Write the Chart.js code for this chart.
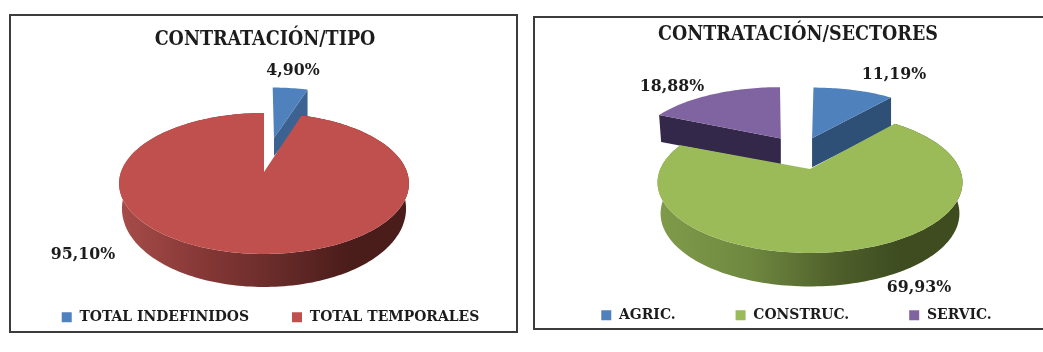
<!DOCTYPE html>
<html><head><meta charset="utf-8">
<script src="https://cdn.jsdelivr.net/npm/chart.js@4/dist/chart.umd.min.js"></script>
<style>
html,body{margin:0;padding:0;background:#fff;overflow:hidden;width:1043px;height:352px}
.p{position:absolute;box-sizing:border-box;border:2px solid #3c3c3c;background:#fff}
.p canvas{display:block}
</style></head><body>
<div class="p" style="left:9px;top:14px;width:509px;height:319px"><canvas id="a" width="505" height="315"></canvas></div>
<div class="p" style="left:533px;top:16px;width:644px;height:314px"><canvas id="b" width="640" height="310"></canvas></div>
<script>
const typeCategories = ['TOTAL INDEFINIDOS', 'TOTAL TEMPORALES'];
const typeValues = [4.90, 95.10];
const typeColors = ['#4f81bd', '#c0504d'];
const sectorCategories = ['AGRIC.', 'CONSTRUC.', 'SERVIC.'];
const sectorValues = [11.19, 69.93, 18.88];
const sectorColors = ['#4f81bd', '#9bbb59', '#8064a2'];
const SERIF = '"DejaVu Serif Condensed", "DejaVu Serif", serif';

const fake3d = {
  id: 'fake3d',
  afterLayout(chart, args, o) {
    const s = (box, d) => { box.left += d[0]; box.right += d[0]; box.top += d[1]; box.bottom += d[1]; };
    s(chart.legend, o.legendShift);
    s(chart.titleBlock, o.titleShift);
  },
  beforeDatasetsDraw(chart, args, o) {
    const ctx = chart.ctx, arcs = chart.getDatasetMeta(0).data;
    const pt = (u, v) => { const s = 1 / (1 + o.k * v); return [o.x + o.a * u * s, o.y - o.b * v * s]; };
    const order = arcs.map((_, i) => i).sort((i, j) => (o.slices[j].du || o.slices[j].dv ? 1 : 0) - (o.slices[i].du || o.slices[i].dv ? 1 : 0));
    ctx.save();
    for (const i of order) {
      const p = arcs[i].getProps(['startAngle', 'endAngle']), c = o.slices[i];
      const t1 = p.startAngle + Math.PI / 2, t2 = p.endAngle + Math.PI / 2;
      const du = c.du || 0, dv = c.dv || 0;
      const rim = t => pt(du + Math.sin(t), dv + Math.cos(t));
      const apex = pt(du, dv);
      if (c.apexShift) { apex[0] += c.apexShift[0]; apex[1] += c.apexShift[1]; }
      const n = Math.max(4, Math.ceil((t2 - t1) * 40));
      if (c.wall) {
        const t = Math.abs(Math.sin(t2)) > Math.abs(Math.sin(t1)) ? t2 : t1;
        const r = rim(t);
        ctx.fillStyle = c.wall;
        ctx.beginPath();
        ctx.moveTo(apex[0], apex[1]); ctx.lineTo(r[0], r[1]);
        ctx.lineTo(r[0] + (c.rimShift || 0), r[1] + c.rimDepth);
        ctx.lineTo(apex[0], apex[1] + c.apexDepth);
        ctx.closePath(); ctx.fill();
      } else {
        const g = ctx.createLinearGradient(o.x - o.a, 0, o.x + o.a, 0);
        c.wallStops.forEach(([f, col]) => g.addColorStop(f, col));
        ctx.fillStyle = g;
        ctx.beginPath();
        const low = [];
        for (let j = 0; j <= n; j++) {
          const t = t1 + (t2 - t1) * j / n, r = rim(t), v = Math.cos(t);
          const d = o.dBack + (o.dFront - o.dBack) * (1 - v) / 2;
          if (j) ctx.lineTo(r[0], r[1]); else ctx.moveTo(r[0], r[1]);
          low.push([o.x + (r[0] - o.x) * o.shrink, r[1] + d]);
        }
        low.reverse().forEach(q => ctx.lineTo(q[0], q[1]));
        ctx.closePath(); ctx.fill();
      }
      ctx.fillStyle = arcs[i].options.backgroundColor;
      ctx.beginPath();
      ctx.moveTo(apex[0], apex[1]);
      for (let j = 0; j <= n; j++) { const r = rim(t1 + (t2 - t1) * j / n); ctx.lineTo(r[0], r[1]); }
      ctx.closePath(); ctx.fill();
    }
    ctx.fillStyle = '#1c1c1c';
    ctx.font = 'bold ' + o.labelSize + 'px ' + SERIF;
    ctx.textAlign = 'center'; ctx.textBaseline = 'middle';
    chart.data.datasets[0].data.forEach((val, i) => {
      const l = o.labels[i];
      ctx.fillText(val.toFixed(2).replace('.', ',') + '%', l[0], l[1]);
    });
    ctx.restore();
    return false;
  }
};

function make(id, title, cats, vals, cols, legendPad, geo) {
  new Chart(document.getElementById(id), {
    type: 'pie',
    data: { labels: cats, datasets: [{ data: vals, backgroundColor: cols, borderWidth: 0 }] },
    plugins: [fake3d],
    options: {
      responsive: false, animation: false,
      plugins: {
        tooltip: { enabled: false },
        title: { display: true, text: title, color: '#1c1c1c', padding: 0, font: { family: SERIF, size: 19.5, weight: 'bold' } },
        legend: { position: 'bottom', labels: { boxWidth: 10, boxHeight: 10, padding: legendPad, color: '#1c1c1c', font: { family: SERIF, size: 15.5, weight: 'bold' } } },
        fake3d: geo
      }
    }
  });
}

make('a', 'CONTRATACIÓN/TIPO', typeCategories, typeValues, typeColors, 43, {
  x: 253, y: 156, a: 143, b: 68.6, k: 0.163, dBack: 14, dFront: 33, shrink: 0.98, labelSize: 17.5,
  legendShift: [7, 4], titleShift: [1.5, 12],
  labels: [[282, 54], [72, 238]],
  slices: [
    { du: 0.076, dv: 0.54, wall: '#3b6291', rimDepth: 27, apexDepth: 18 },
    { wallStops: [[0, '#a64c49'], [0.3, '#843735'], [0.55, '#672b29'], [0.8, '#4a1c1a'], [1, '#4a1c1a']] }
  ]
});
make('b', 'CONTRATACIÓN/SECTORES', sectorCategories, sectorValues, sectorColors, 60, {
  x: 275, y: 151, a: 149.7, b: 68, k: 0.19, dBack: 27.5, dFront: 33.5, shrink: 0.98, labelSize: 17.5,
  legendShift: [-58.5, 5], titleShift: [-57, 5],
  labels: [[359, 56], [384, 269], [137, 68]],
  slices: [
    { du: 0.03, dv: 0.55, wall: '#2f5076', rimDepth: 30, apexDepth: 29, apexShift: [-2, 3] },
    { wallStops: [[0, '#7f9b49'], [0.3, '#6f8840'], [0.6, '#4d5e2a'], [0.8, '#3e4c20'], [1, '#3e4c20']] },
    { du: -0.26, dv: 0.56, wall: '#33284a', rimDepth: 27, apexDepth: 26, rimShift: 2, apexShift: [6, 4] }
  ]
});
</script>
</body></html>
